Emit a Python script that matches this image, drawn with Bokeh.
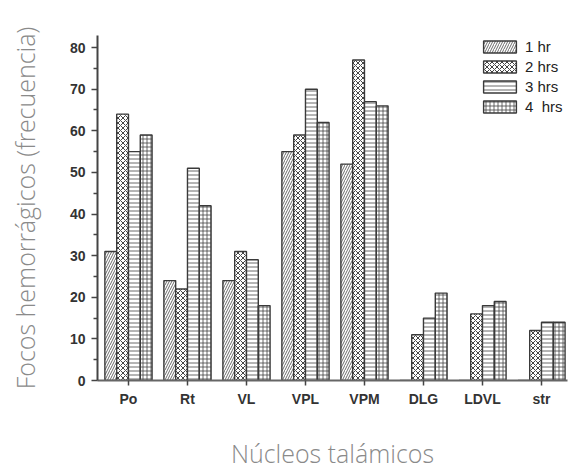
from bokeh.plotting import figure
from bokeh.models import ColumnDataSource, Range1d, FixedTicker, Legend, LegendItem, Title
from bokeh.transform import dodge
from bokeh.embed import file_html
from bokeh.resources import INLINE

categories = ["Po", "Rt", "VL", "VPL", "VPM", "DLG", "LDVL", "str"]
series_names = ["1 hr", "2 hrs", "3 hrs", "4  hrs"]
hr1 = [31, 24, 24, 55, 52, 0, 0, 0]
hr2 = [64, 22, 31, 59, 77, 11, 16, 12]
hr3 = [55, 51, 29, 70, 67, 15, 18, 14]
hr4 = [59, 42, 18, 62, 66, 21, 19, 14]
y_ticks = [0, 10, 20, 30, 40, 50, 60, 70, 80]
y_title = "Focos hemorrágicos (frecuencia)"
x_title = "Núcleos talámicos"

LIGHT = "Open Sans Light, Open Sans"

src = ColumnDataSource(dict(x=list(range(len(categories))), hr1=hr1, hr2=hr2, hr3=hr3, hr4=hr4))

p = figure(width=572, height=470, output_backend="svg", toolbar_location=None,
           x_range=Range1d(-0.525, 7.441), y_range=Range1d(0, 82.9),
           min_border_left=97, min_border_top=35, min_border_bottom=89, min_border_right=5)
p.outline_line_color = None
p.grid.visible = False

styles = [
    dict(hatch_pattern="/", hatch_scale=5, hatch_weight=0.8),
    dict(hatch_pattern="x", hatch_scale=5, hatch_weight=1.0),
    dict(hatch_pattern="-", hatch_scale=4, hatch_weight=0.8),
    dict(hatch_pattern="+", hatch_scale=4, hatch_weight=0.8),
]
offsets = [-0.3, -0.1, 0.1, 0.3]
fields = ["hr1", "hr2", "hr3", "hr4"]
renderers = []
for f, off, st in zip(fields, offsets, styles):
    r = p.vbar(x=dodge("x", off), top=f, width=0.2, source=src,
               fill_color="white", line_color="#3a3a3a", line_width=1.4,
               hatch_color="#444444", **st)
    renderers.append(r)

legend = Legend(items=[LegendItem(label=n, renderers=[r]) for n, r in zip(series_names, renderers)],
                location=(382, 265), padding=0, margin=0, spacing=3,
                glyph_width=41, glyph_height=15, label_standoff=5,
                label_text_font="Liberation Sans", label_text_font_size="15px",
                label_text_color="#222222", label_height=15,
                border_line_color=None, background_fill_alpha=0)
p.add_layout(legend)

# x axis
p.xaxis.ticker = FixedTicker(ticks=list(range(len(categories))))
p.xaxis.major_label_overrides = {i: c for i, c in enumerate(categories)}
p.xaxis.minor_tick_line_color = None
p.xaxis.major_tick_out = 5
p.xaxis.major_tick_in = 0
p.xaxis.axis_line_color = "#666666"
p.xaxis.axis_line_width = 2
p.xaxis.major_tick_line_color = "#444444"
p.xaxis.major_tick_line_width = 1.5
p.xaxis.major_label_text_font = "Liberation Sans"
p.xaxis.major_label_text_font_style = "bold"
p.xaxis.major_label_text_font_size = "14px"
p.xaxis.major_label_text_color = "#333333"
p.xaxis.major_label_standoff = 5

# y axis
p.yaxis.ticker = FixedTicker(ticks=y_ticks, minor_ticks=[5, 15, 25, 35, 45, 55, 65, 75])
p.yaxis.major_tick_out = 6
p.yaxis.major_tick_in = 0
p.yaxis.minor_tick_out = 4
p.yaxis.minor_tick_in = 0
p.yaxis.axis_line_color = "#444444"
p.yaxis.axis_line_width = 2
p.yaxis.major_tick_line_color = "#444444"
p.yaxis.major_tick_line_width = 1.5
p.yaxis.minor_tick_line_color = "#444444"
p.yaxis.minor_tick_line_width = 1.5
p.yaxis.major_label_text_font = "Liberation Sans"
p.yaxis.major_label_text_font_style = "bold"
p.yaxis.major_label_text_font_size = "14px"
p.yaxis.major_label_text_color = "#333333"
p.yaxis.major_label_standoff = 6
p.yaxis.axis_label = y_title
p.yaxis.axis_label_text_font = LIGHT
p.yaxis.axis_label_text_font_style = "normal"
p.yaxis.axis_label_text_font_size = "25px"
p.yaxis.axis_label_text_color = "#8a8a8a"
p.yaxis.axis_label_standoff = 25

spacer = Title(text=" ", text_font_size="1px", standoff=20)
p.add_layout(spacer, "below")
xt = Title(text=x_title, align="center", offset=-55, standoff=2,
           text_font=LIGHT, text_font_style="normal", text_font_size="25px",
           text_color="#8a8a8a")
p.add_layout(xt, "below")

open("out.html", "w").write(file_html(p, INLINE))
